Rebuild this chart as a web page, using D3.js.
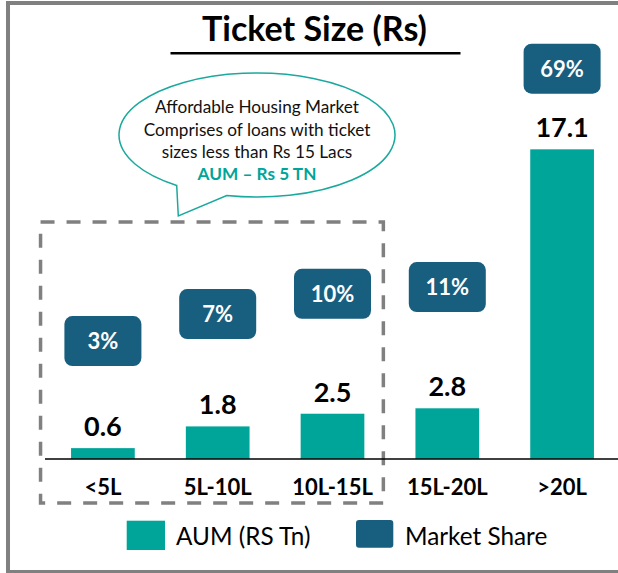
<!DOCTYPE html>
<html>
<head>
<meta charset="utf-8">
<script src="https://cdn.jsdelivr.net/npm/d3@7"></script>
<style>
  body { margin: 0; background: #fff; }
  text { font-family: Lato, "Open Sans", sans-serif; }
</style>
</head>
<body>
<div id="chart"></div>
<script>
const categories = ["<5L", "5L-10L", "10L-15L", "15L-20L", ">20L"];
const aum = [0.6, 1.8, 2.5, 2.8, 17.1];
const marketShare = [3, 7, 10, 11, 69];
const calloutLines = [
  "Affordable Housing Market",
  "Comprises of loans with ticket",
  "sizes less than Rs 15 Lacs"
];
const calloutHighlight = "AUM \u2013 Rs 5 TN";
const legendLabels = ["AUM (RS Tn)", "Market Share"];

const teal = "#00a599";
const navy = "#185e7f";

const width = 618;
const height = 573;
const baseY = 459;

const data = categories.map((c, i) => ({ cat: c, aum: aum[i], share: marketShare[i] }));

const svg = d3.select("#chart")
  .append("svg")
  .attr("width", width)
  .attr("height", height);

// frame (no right edge in the original)
svg.append("rect")
  .attr("x", 8).attr("y", 3)
  .attr("width", 700).attr("height", 569)
  .attr("fill", "none")
  .attr("stroke", "#808080")
  .attr("stroke-width", 4);

const x = d3.scaleBand()
  .domain(categories)
  .range([45.5, 619.5])
  .paddingInner(0.445)
  .paddingOuter(0.2225);

const y = d3.scaleLinear()
  .domain([0, 20])
  .range([baseY, baseY - 20 * 18.11]);

// market share boxes sit on a broken scale (69% is far off the rest)
const yShare = d3.scaleLinear()
  .domain([0, 12, 70])
  .range([361.3, 280.3, 65]);

// title
svg.append("text")
  .attr("x", 314.5)
  .attr("y", 40.5)
  .attr("text-anchor", "middle")
  .style("font-size", "34px")
  .style("font-weight", "bold")
  .text("Ticket Size (Rs)");

svg.append("line")
  .attr("x1", 170.5).attr("x2", 460.5)
  .attr("y1", 53.3).attr("y2", 53.3)
  .attr("stroke", "#000")
  .attr("stroke-width", 2.5);

// dashed box around affordable segment
const boxLeft = x(categories[0]) - 30.5;
const boxRight = x(categories[2]) + x.bandwidth() + 19;
svg.append("rect")
  .attr("x", boxLeft).attr("y", 222)
  .attr("width", boxRight - boxLeft)
  .attr("height", 281)
  .attr("fill", "none")
  .attr("stroke", "#808080")
  .attr("stroke-width", 3.5)
  .attr("stroke-dasharray", "14,12");

// callout bubble
const cx = 257, cy = 135, rx = 138, ry = 62;
const ellY = px => cy + ry * Math.sqrt(1 - Math.pow((px - cx) / rx, 2));
const l = [176.7, ellY(176.7)];
const r = [226.7, ellY(226.7)];
svg.append("path")
  .attr("d", `M${l[0]},${l[1]} L178.3,216 L${r[0]},${r[1]} A${rx},${ry} 0 1 0 ${l[0]},${l[1]} Z`)
  .attr("fill", "#fff")
  .attr("stroke", "#1aa99d")
  .attr("stroke-width", 1.5);

const callout = svg.append("g");
callout.selectAll("text.line")
  .data(calloutLines)
  .enter()
  .append("text")
  .attr("class", "line")
  .attr("x", cx)
  .attr("y", (d, i) => 113.3 + i * 22.2)
  .attr("text-anchor", "middle")
  .style("font-size", "17.2px")
  .attr("fill", "#111")
  .text(d => d);

callout.append("text")
  .attr("x", cx)
  .attr("y", 180)
  .attr("text-anchor", "middle")
  .style("font-size", "17.2px")
  .style("font-weight", "bold")
  .attr("fill", teal)
  .text(calloutHighlight);

// bars
svg.selectAll("rect.bar")
  .data(data)
  .enter()
  .append("rect")
  .attr("class", "bar")
  .attr("x", d => x(d.cat))
  .attr("y", d => y(d.aum))
  .attr("width", x.bandwidth())
  .attr("height", d => baseY - y(d.aum))
  .attr("fill", teal);

// value labels
svg.selectAll("text.val")
  .data(data)
  .enter()
  .append("text")
  .attr("class", "val")
  .attr("x", d => x(d.cat) + x.bandwidth() / 2)
  .attr("y", d => y(d.aum) - 12)
  .attr("text-anchor", "middle")
  .style("font-size", "27px")
  .style("font-weight", "bold")
  .text(d => d3.format(".1f")(d.aum));

// market share boxes
const share = svg.selectAll("g.share")
  .data(data)
  .enter()
  .append("g")
  .attr("class", "share")
  .attr("transform", d => `translate(${x(d.cat) + x.bandwidth() / 2},${yShare(d.share)})`);

share.append("rect")
  .attr("x", -38.5).attr("y", -25)
  .attr("width", 77).attr("height", 50)
  .attr("rx", 8)
  .attr("fill", navy);

share.append("text")
  .attr("y", 8)
  .attr("text-anchor", "middle")
  .attr("fill", "#fff")
  .style("font-size", "22px")
  .style("font-weight", "bold")
  .text(d => d.share + "%");

// baseline + category labels
svg.append("line")
  .attr("x1", 45).attr("x2", width)
  .attr("y1", baseY).attr("y2", baseY)
  .attr("stroke", "#000")
  .attr("stroke-width", 1.5);

svg.selectAll("text.cat")
  .data(categories)
  .enter()
  .append("text")
  .attr("class", "cat")
  .attr("x", d => x(d) + x.bandwidth() / 2)
  .attr("y", 495)
  .attr("text-anchor", "middle")
  .style("font-size", "22px")
  .style("font-weight", "bold")
  .text(d => d);

// legend
const legend = svg.append("g");
legend.append("rect")
  .attr("x", 126.7).attr("y", 520.7)
  .attr("width", 38.3).attr("height", 29.3)
  .attr("fill", teal);
legend.append("text")
  .attr("x", 176).attr("y", 545)
  .style("font-size", "24.3px")
  .text(legendLabels[0]);
legend.append("rect")
  .attr("x", 356).attr("y", 520)
  .attr("width", 37.3).attr("height", 27.7)
  .attr("rx", 3)
  .attr("fill", navy);
legend.append("text")
  .attr("x", 405).attr("y", 545)
  .style("font-size", "24.3px")
  .text(legendLabels[1]);
</script>
</body>
</html>
